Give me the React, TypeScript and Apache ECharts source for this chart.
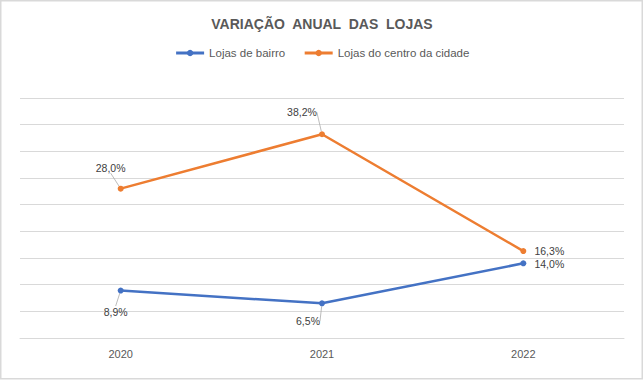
import React, { useEffect, useRef } from "react";
import * as echarts from "echarts";

const categories = ["2020", "2021", "2022"];
const seriesNames = ["Lojas de bairro", "Lojas do centro da cidade"];
const bairro = [8.9, 6.5, 14.0];
const centro = [28.0, 38.2, 16.3];

// label offsets (dx, dy) from each point's centre, per series
const labelOffsets: number[][][] = [
  [[-5, 21], [-14, 18], [26, 0.5]],
  [[-10, -21], [-20, -22], [26, -0.5]],
];
const showGuide: boolean[][] = [
  [true, true, false],
  [true, true, false],
];

const fmt = (v: number) => v.toFixed(1).replace(".", ",") + "%";

export default function App() {
  const ref = useRef<HTMLDivElement>(null);
  useEffect(() => {
    if (!ref.current) return;
    const chart = echarts.init(ref.current, undefined, { renderer: "svg" });
    const font = "'Liberation Sans', Arial, sans-serif";
    const mkSeries = (name: string, data: number[], color: string, si: number) => ({
      name,
      type: "line",
      data: data.map((v, i) => ({
        value: v,
        labelLine: { show: showGuide[si][i] },
      })),
      symbol: "circle",
      symbolSize: 6,
      itemStyle: { color },
      lineStyle: { color, width: 2.5 },
      label: {
        show: true,
        position: "top",
        formatter: (p: any) => fmt(p.value),
        color: "#404040",
        fontSize: 10.5,
        fontFamily: font,
      },
      labelLine: {
        show: true,
        lineStyle: { color: "#a6a6a6", width: 0.75 },
      },
      labelLayout: (params: any) => {
        const r = params.rect;
        const o = labelOffsets[si][params.dataIndex];
        return {
          x: r.x + r.width / 2 + o[0],
          y: r.y + r.height / 2 + o[1],
          align: "center",
          verticalAlign: "middle",
        };
      },
      emphasis: { disabled: true },
    });
    chart.setOption({
      animation: false,
      backgroundColor: "#ffffff",
      title: {
        text: "VARIAÇÃO  ANUAL  DAS  LOJAS",
        left: "center",
        top: 12,
        textStyle: {
          color: "#595959",
          fontSize: 14,
          fontWeight: "bold",
          fontFamily: font,
        },
      },
      legend: {
        top: 42,
        left: "center",
        itemWidth: 28,
        itemHeight: 8,
        itemGap: 18,
        lineStyle: { width: 3 },
        textStyle: { color: "#595959", fontSize: 11.5, fontFamily: font },
        data: seriesNames,
      },
      grid: { left: 20, right: 20, top: 98, bottom: 46 },
      xAxis: {
        type: "category",
        data: categories,
        boundaryGap: true,
        axisLine: { show: true, lineStyle: { color: "#d9d9d9", width: 1 } },
        axisTick: { show: false },
        axisLabel: { color: "#595959", fontSize: 11, fontFamily: font, margin: 10 },
      },
      yAxis: {
        type: "value",
        min: 0,
        max: 45,
        interval: 5,
        axisLabel: { show: false },
        axisLine: { show: false },
        axisTick: { show: false },
        splitLine: { lineStyle: { color: "#d9d9d9", width: 1 } },
      },
      graphic: [
        {
          type: "rect",
          shape: { x: 0.75, y: 0.75, width: 641.5, height: 378 },
          style: { fill: "none", stroke: "#d9d9d9", lineWidth: 1.5 },
          silent: true,
        },
      ],
      series: [
        mkSeries(seriesNames[0], bairro, "#4472C4", 0),
        mkSeries(seriesNames[1], centro, "#ED7D31", 1),
      ],
    });
    return () => chart.dispose();
  }, []);
  return (
    <div
      ref={ref}
      style={{ position: "fixed", left: 0, top: 0, width: 644, height: 384 }}
    />
  );
}
